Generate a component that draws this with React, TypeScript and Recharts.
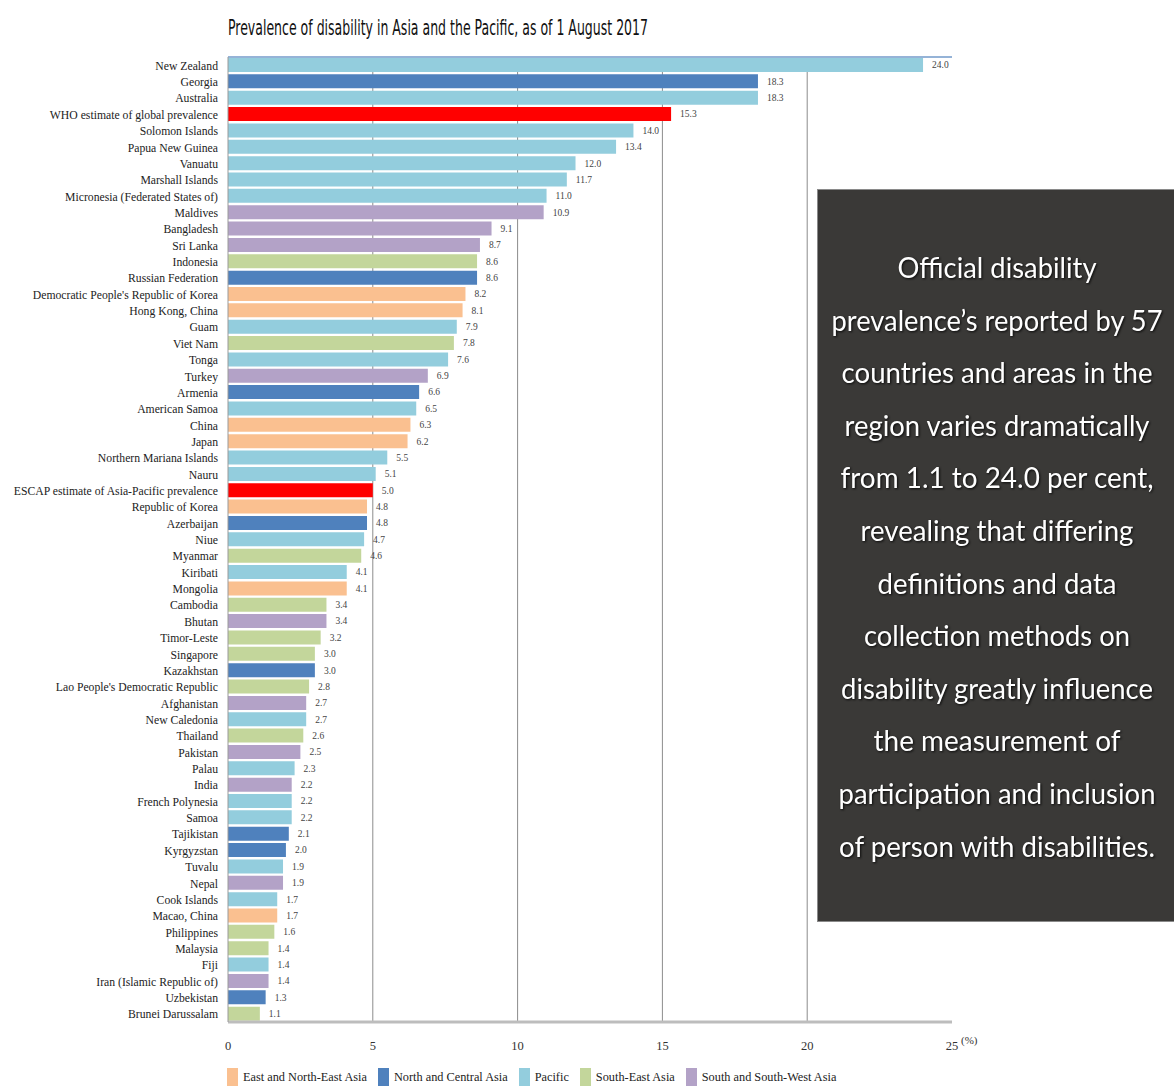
import React from "react";
import { Bar, BarChart, Cell, LabelList, ReferenceLine, XAxis, YAxis } from "recharts";

const COUNTRIES: string[] = [
	"New Zealand",
	"Georgia",
	"Australia",
	"WHO estimate of global prevalence",
	"Solomon Islands",
	"Papua New Guinea",
	"Vanuatu",
	"Marshall Islands",
	"Micronesia (Federated States of)",
	"Maldives",
	"Bangladesh",
	"Sri Lanka",
	"Indonesia",
	"Russian Federation",
	"Democratic People's Republic of Korea",
	"Hong Kong, China",
	"Guam",
	"Viet Nam",
	"Tonga",
	"Turkey",
	"Armenia",
	"American Samoa",
	"China",
	"Japan",
	"Northern Mariana Islands",
	"Nauru",
	"ESCAP estimate of Asia-Pacific prevalence",
	"Republic of Korea",
	"Azerbaijan",
	"Niue",
	"Myanmar",
	"Kiribati",
	"Mongolia",
	"Cambodia",
	"Bhutan",
	"Timor-Leste",
	"Singapore",
	"Kazakhstan",
	"Lao People's Democratic Republic",
	"Afghanistan",
	"New Caledonia",
	"Thailand",
	"Pakistan",
	"Palau",
	"India",
	"French Polynesia",
	"Samoa",
	"Tajikistan",
	"Kyrgyzstan",
	"Tuvalu",
	"Nepal",
	"Cook Islands",
	"Macao, China",
	"Philippines",
	"Malaysia",
	"Fiji",
	"Iran (Islamic Republic of)",
	"Uzbekistan",
	"Brunei Darussalam",
];

const PREVALENCE: number[] = [
	24.0, 18.3, 18.3, 15.3, 14.0, 13.4, 12.0, 11.7, 11.0, 10.9, 9.1, 8.7, 8.6, 8.6, 8.2, 8.1, 7.9, 7.8, 7.6, 6.9,
	6.6, 6.5, 6.3, 6.2, 5.5, 5.1, 5.0, 4.8, 4.8, 4.7, 4.6, 4.1, 4.1, 3.4, 3.4, 3.2, 3.0, 3.0, 2.8, 2.7, 2.7, 2.6,
	2.5, 2.3, 2.2, 2.2, 2.2, 2.1, 2.0, 1.9, 1.9, 1.7, 1.7, 1.6, 1.4, 1.4, 1.4, 1.3, 1.1,
];

// index into REGIONS, 5 = regional/global estimate
const REGION_INDEX: number[] = [
	2, 1, 2, 5, 2, 2, 2, 2, 2, 4, 4, 4, 3, 1, 0, 0, 2, 3, 2, 4, 1, 2, 0, 0, 2, 2, 5, 0, 1, 2, 3, 2, 0, 3, 4, 3,
	3, 1, 3, 4, 2, 3, 4, 2, 4, 2, 2, 1, 1, 2, 4, 2, 0, 3, 3, 2, 4, 1, 3,
];

const REGIONS: string[] = [
	"East and North-East Asia",
	"North and Central Asia",
	"Pacific",
	"South-East Asia",
	"South and South-West Asia",
];

const REGION_COLORS: string[] = ["#FAC090", "#4F81BD", "#93CDDD", "#C3D69B", "#B3A2C7", "#FF0000"];

const X_TICKS: number[] = [0, 5, 10, 15, 20, 25];
const GRID_VALUES: number[] = [5, 10, 15, 20];

const TITLE = "Prevalence of disability in Asia and the Pacific, as of 1 August 2017";

const NOTE_LINES: string[] = [
	"Official disability",
	"prevalence\u2019s reported by 57",
	"countries and areas in the",
	"region varies dramatically",
	"from 1.1 to 24.0 per cent,",
	"revealing that differing",
	"definitions and data",
	"collection methods on",
	"disability greatly influence",
	"the measurement of",
	"participation and inclusion",
	"of person with disabilities.",
];
const NOTE_WIDTHS: number[] = [199, 331, 311, 305, 313, 273, 239, 266, 312, 247, 317, 316];

const SERIF = "'Liberation Serif', 'DejaVu Serif', serif";

const rows = COUNTRIES.map((name, i) => ({
	name,
	value: PREVALENCE[i],
	region: REGION_INDEX[i],
}));

function CountryTick({
	x,
	y,
	payload,
}: {
	x?: number;
	y?: number;
	payload?: { value: string };
}): React.ReactElement {
	return (
		<g transform={`translate(${x},${y}) scale(0.9,1)`}>
			<text x={0} y={0} dy="0.35em" textAnchor="end" fontSize={13} fill="#222" fontFamily={SERIF}>
				{payload?.value}
			</text>
		</g>
	);
}

function NoteBox(): React.ReactElement {
	return (
		<div
			style={{
				position: "absolute",
				left: 817,
				top: 189,
				width: 357,
				height: 733,
				background: "#3a3937",
				borderTop: "1px solid #8a8a8a",
				borderLeft: "1px solid #8a8a8a",
				borderBottom: "1px solid #8a8a8a",
				boxSizing: "border-box",
			}}
		>
			<svg width={357} height={733} style={{ position: "absolute", left: -1, top: -1 }}>
				{NOTE_LINES.map((line, i) => (
					<text
						key={line}
						x={180}
						y={89 + i * 52.6}
						textAnchor="middle"
						fill="#ffffff"
						fontSize={28}
						fontFamily="Lato, 'Open Sans', sans-serif"
						textLength={NOTE_WIDTHS[i]}
						lengthAdjust="spacingAndGlyphs"
						style={{ filter: "drop-shadow(1px 1px 1px rgba(0,0,0,0.8))" }}
					>
						{line}
					</text>
				))}
			</svg>
		</div>
	);
}

function RegionLegend(): React.ReactElement {
	return (
		<div
			style={{
				position: "absolute",
				left: 227,
				top: 1068,
				display: "flex",
				alignItems: "flex-start",
				fontFamily: SERIF,
				fontSize: 12.3,
				color: "#222",
				whiteSpace: "nowrap",
			}}
		>
			{REGIONS.map((region, i) => (
				<div key={region} style={{ display: "flex", alignItems: "flex-start", marginRight: 11 }}>
					<span
						style={{
							display: "inline-block",
							width: 11,
							height: 18,
							background: REGION_COLORS[i],
							marginRight: 5,
						}}
					/>
					<span style={{ lineHeight: "18px" }}>{region}</span>
				</div>
			))}
		</div>
	);
}

export default function App(): React.ReactElement {
	return (
		<div
			style={{
				position: "absolute",
				left: 0,
				top: 0,
				width: 1174,
				height: 1086,
				overflow: "hidden",
				background: "#ffffff",
			}}
		>
			<svg width={1174} height={50} style={{ position: "absolute", left: 0, top: 0 }}>
				<text
					x={228}
					y={35}
					fontSize={21}
					fontFamily="'Liberation Sans Narrow', 'DejaVu Sans Condensed', 'Liberation Sans', sans-serif"
					fill="#111"
					textLength={420}
					lengthAdjust="spacingAndGlyphs"
				>
					{TITLE}
				</text>
			</svg>
			<div style={{ position: "absolute", left: 0, top: 0 }}>
				<BarChart
					width={980}
					height={1086}
					data={rows}
					layout="vertical"
					margin={{ top: 55, right: 28, bottom: 24, left: 0 }}
				>
					<XAxis
						xAxisId="top"
						type="number"
						orientation="top"
						domain={[0, 25]}
						height={2}
						tick={false}
						tickLine={false}
						axisLine={{ stroke: "#95B3D7", strokeWidth: 2 }}
					/>
					<XAxis
						type="number"
						domain={[0, 25]}
						ticks={X_TICKS}
						height={40}
						tickLine={false}
						tickMargin={13}
						axisLine={{ stroke: "#bdbdbd", strokeWidth: 3 }}
						tick={{ fontSize: 12.5, fill: "#333", fontFamily: SERIF }}
						label={{
							value: "(%)",
							position: "right",
							offset: 9,
							dy: -2,
							fontSize: 11,
							fill: "#333",
							fontFamily: SERIF,
						}}
					/>
					<YAxis
						type="category"
						dataKey="name"
						width={228}
						interval={0}
						tickLine={false}
						tickSize={6}
						tickMargin={4}
						axisLine={{ stroke: "#9a9a9a" }}
						tick={<CountryTick />}
					/>
					{GRID_VALUES.map((v) => (
						<ReferenceLine key={v} x={v} stroke="#8c8c8c" zIndex={-100} />
					))}
					<Bar dataKey="value" barSize={14} isAnimationActive={false}>
						{rows.map((row) => (
							<Cell key={row.name} fill={REGION_COLORS[row.region]} />
						))}
						<LabelList
							dataKey="value"
							position="right"
							offset={9}
							formatter={(v: number) => Number(v).toFixed(1)}
							style={{ fontSize: 9.5, fill: "#444", fontFamily: SERIF }}
						/>
					</Bar>
				</BarChart>
			</div>
			<NoteBox />
			<RegionLegend />
		</div>
	);
}
